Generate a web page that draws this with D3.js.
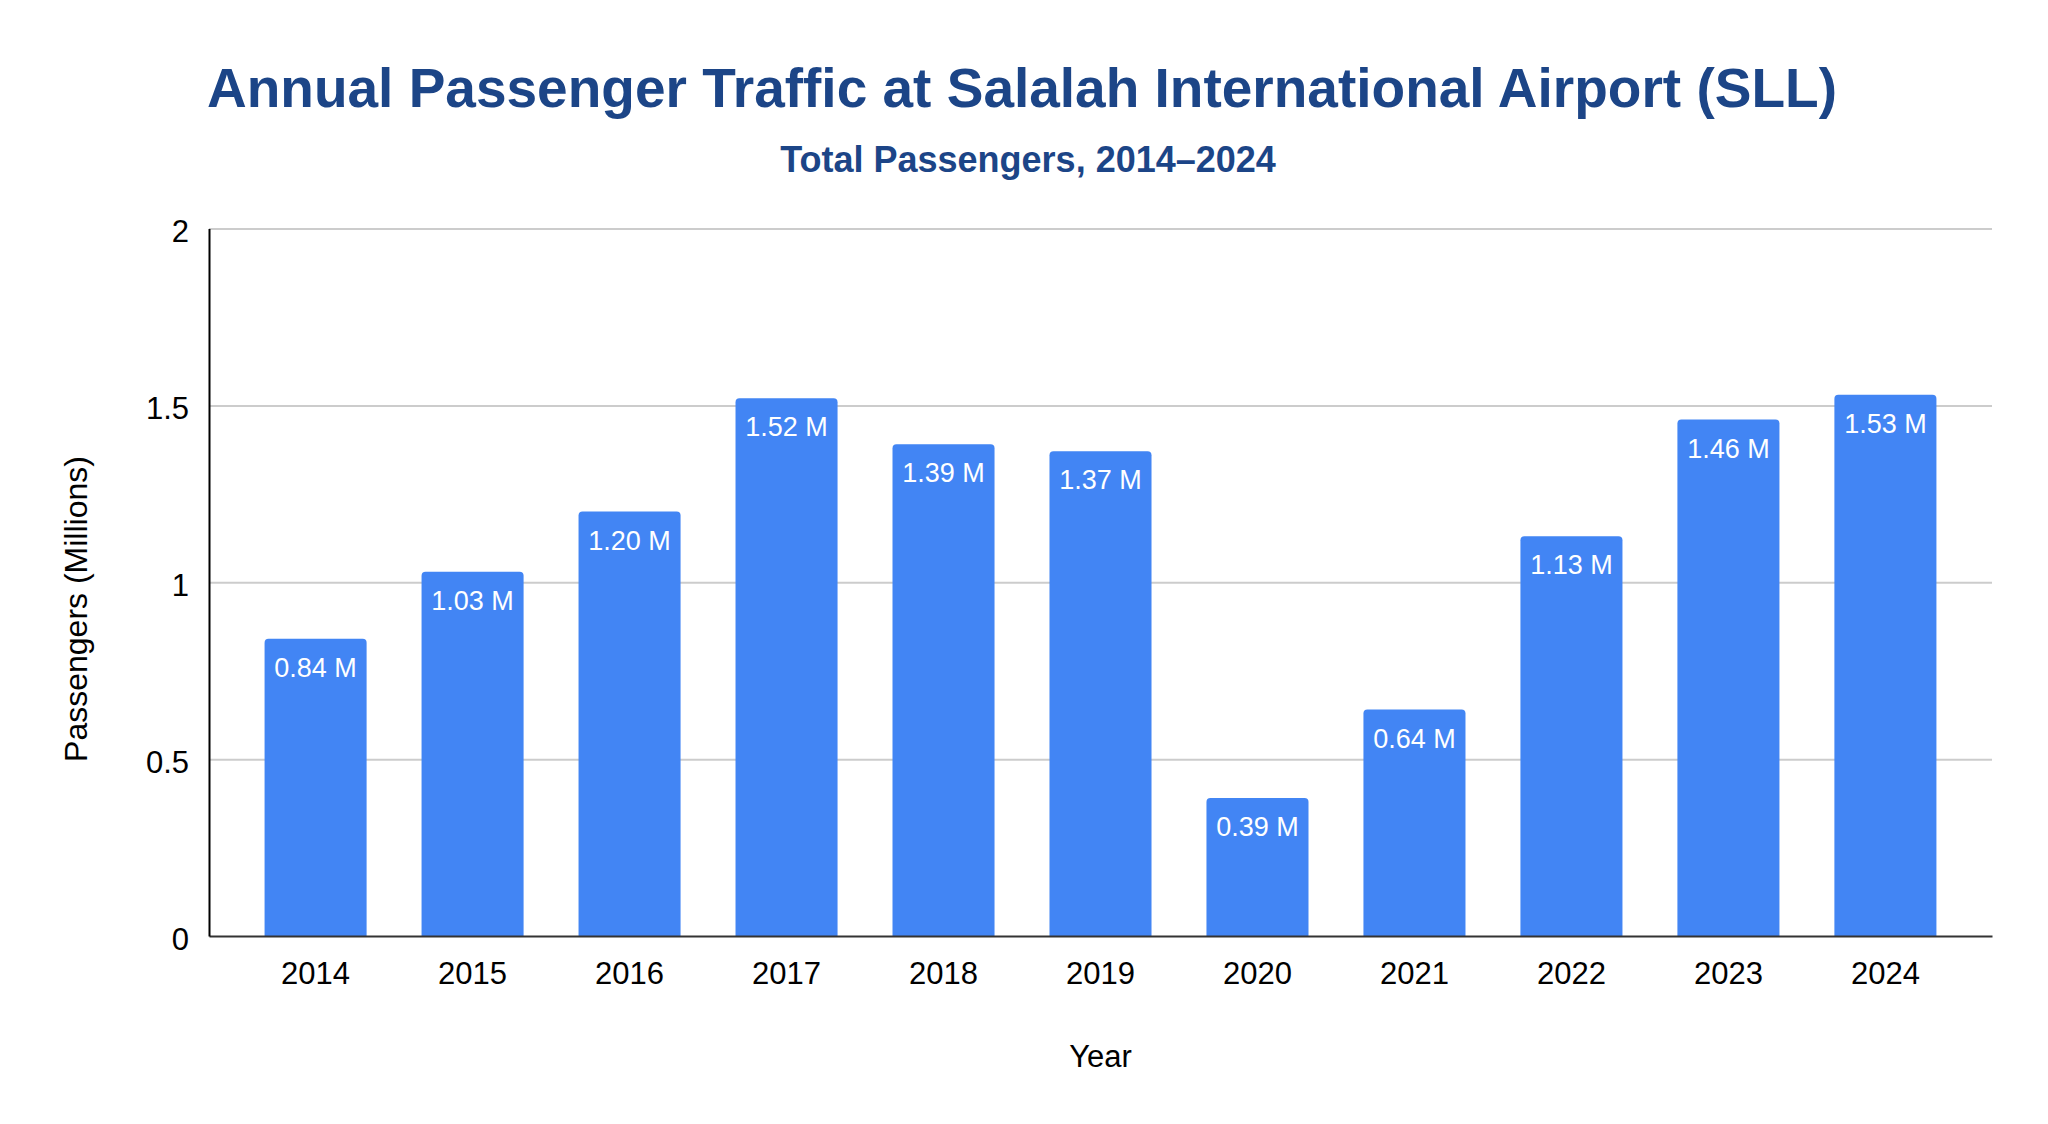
<!DOCTYPE html>
<html>
<head>
<meta charset="utf-8">
<script src="https://cdn.jsdelivr.net/npm/d3@7"></script>
<style>
  html, body { margin: 0; padding: 0; background: #fff; }
  svg { display: block; font-family: "Liberation Sans", Arial, sans-serif; }
</style>
</head>
<body>
<div id="chart"></div>
<script>
// data
const years = ["2014", "2015", "2016", "2017", "2018", "2019", "2020", "2021", "2022", "2023", "2024"];
const passengers = [0.84, 1.03, 1.20, 1.52, 1.39, 1.37, 0.39, 0.64, 1.13, 1.46, 1.53];
const yTicks = [0, 0.5, 1, 1.5, 2];

const width = 2048;
const height = 1124;
const margin = { top: 228.5, right: 56, bottom: 188, left: 209 };

const svg = d3.select("#chart").append("svg")
    .attr("width", width)
    .attr("height", height);

const x = d3.scaleBand()
    .domain(years)
    .range([margin.left, width - margin.right])
    .paddingInner(0.35)
    .paddingOuter(0.354);

const y = d3.scaleLinear()
    .domain([0, 2])
    .range([height - margin.bottom, margin.top]);

// gridlines
svg.append("g")
    .attr("transform", `translate(${margin.left},0)`)
    .call(d3.axisLeft(y).tickValues(yTicks.filter(t => t > 0))
        .tickSize(-(width - margin.left - margin.right)).tickFormat(""))
    .call(g => g.select(".domain").remove())
    .call(g => g.selectAll("line").attr("stroke", "#cccccc").attr("stroke-width", 2));

// bars with slightly rounded tops
function barPath(d, i) {
    const x0 = x(years[i]);
    const w = x.bandwidth();
    const y0 = y(d);
    const y1 = y(0);
    const r = 4;
    return `M${x0},${y1} L${x0},${y0 + r} Q${x0},${y0} ${x0 + r},${y0}` +
        ` L${x0 + w - r},${y0} Q${x0 + w},${y0} ${x0 + w},${y0 + r} L${x0 + w},${y1} Z`;
}

svg.append("g")
    .selectAll("path")
    .data(passengers)
    .enter().append("path")
    .attr("d", barPath)
    .attr("fill", "#4285f4");

// value labels inside the bars
svg.append("g")
    .selectAll("text")
    .data(passengers)
    .enter().append("text")
    .attr("x", (d, i) => x(years[i]) + x.bandwidth() / 2)
    .attr("y", d => y(d) + 38)
    .attr("text-anchor", "middle")
    .attr("font-size", 27)
    .attr("fill", "#ffffff")
    .text(d => d.toFixed(2) + " M");

// x axis
svg.append("g")
    .attr("transform", `translate(0,${y(0)})`)
    .call(d3.axisBottom(x).tickSize(0).tickPadding(26))
    .call(g => g.select(".domain").attr("stroke", "#333333").attr("stroke-width", 2))
    .call(g => g.selectAll("text")
        .attr("font-size", 31)
        .attr("font-family", "Liberation Sans, Arial, sans-serif")
        .attr("fill", "#000"));

// y axis
svg.append("g")
    .attr("transform", `translate(${margin.left},0)`)
    .call(d3.axisLeft(y).tickValues(yTicks).tickSize(0).tickPadding(20).tickFormat(d3.format("~g")))
    .call(g => g.select(".domain").attr("stroke", "#000").attr("stroke-width", 2))
    .call(g => g.selectAll("text")
        .attr("dy", "0.42em")
        .attr("font-size", 31)
        .attr("font-family", "Liberation Sans, Arial, sans-serif")
        .attr("fill", "#000"));

// titles
svg.append("text")
    .attr("x", 1022)
    .attr("y", 107)
    .attr("text-anchor", "middle")
    .attr("font-size", 55)
    .attr("font-weight", "bold")
    .attr("fill", "#1c4587")
    .text("Annual Passenger Traffic at Salalah International Airport (SLL)");

svg.append("text")
    .attr("x", 1028)
    .attr("y", 172)
    .attr("text-anchor", "middle")
    .attr("font-size", 36)
    .attr("font-weight", "bold")
    .attr("fill", "#1c4587")
    .text("Total Passengers, 2014–2024");

// axis titles
svg.append("text")
    .attr("x", (margin.left + width - margin.right) / 2)
    .attr("y", 1067)
    .attr("text-anchor", "middle")
    .attr("font-size", 31)
    .attr("fill", "#000")
    .text("Year");

svg.append("text")
    .attr("transform", "translate(87,609) rotate(-90)")
    .attr("text-anchor", "middle")
    .attr("font-size", 32)
    .attr("fill", "#000")
    .text("Passengers (Millions)");
</script>
</body>
</html>
